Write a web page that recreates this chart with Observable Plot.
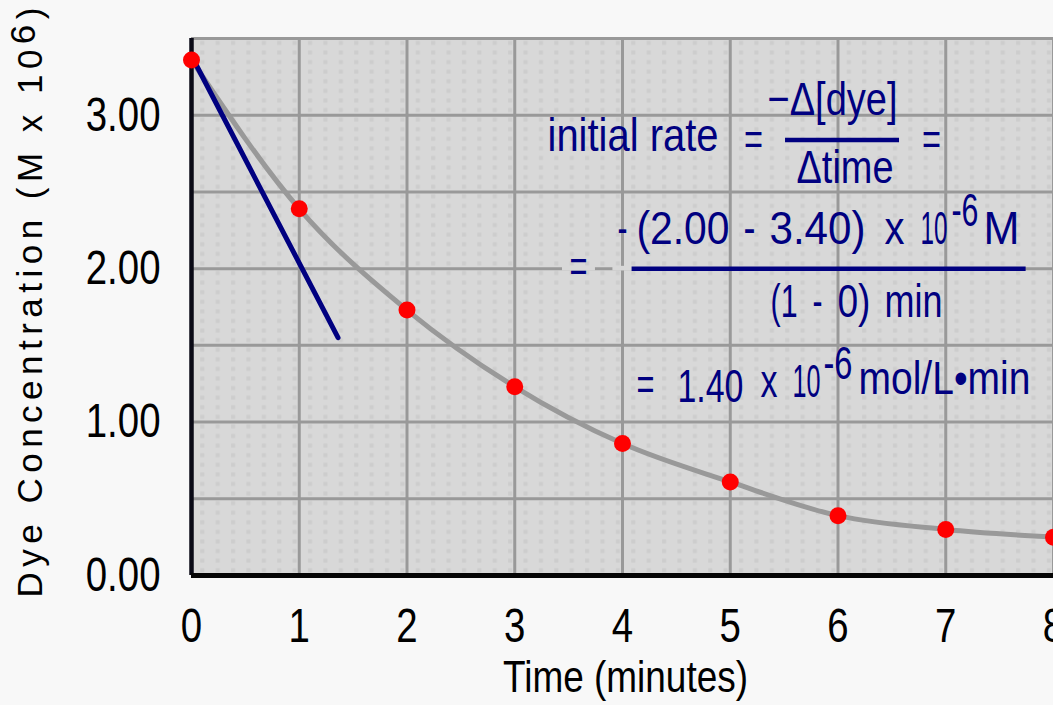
<!DOCTYPE html>
<html><head><meta charset="utf-8">
<script src="https://cdn.jsdelivr.net/npm/d3@7"></script>
<script src="https://cdn.jsdelivr.net/npm/@observablehq/plot@0.6"></script>
<style>
html,body{margin:0;padding:0;background:#f8f8f8;overflow:hidden}
</style></head><body>
<svg width="0" height="0" style="position:absolute">
<defs><pattern id="dots" patternUnits="userSpaceOnUse" x="191" y="575" width="15.393" height="9.5875">
<rect width="16" height="10" fill="#d8d8d8"/><rect x="8.8" y="2.3" width="4" height="4" fill="#cdcdcd"/></pattern></defs></svg>
<div id="chart"></div>
<script>
// measured data
const time = [0, 1, 2, 3, 4, 5, 6, 7, 8];
const conc = [3.36, 2.39, 1.73, 1.23, 0.86, 0.61, 0.39, 0.30, 0.25];
// tangent at t = 0
const tangentTime = [0.02, 1.36];
const tangentConc = [3.36, 1.55];
// ticks and grid
const xTicks = [0, 1, 2, 3, 4, 5, 6, 7, 8];
const xTickLabels = ["0", "1", "2", "3", "4", "5", "6", "7", "8"];
const yTicks = [0, 1, 2, 3];
const yTickLabels = ["0.00", "1.00", "2.00", "3.00"];
const xGrid = [1, 2, 3, 4, 5, 6, 7, 8];
const yGrid = [0.5, 1, 1.5, 2, 2.5, 3, 3.5];
const xTitle = "Time (minutes)";
const yTitle = "Dye Concentration (M x 10";
const yTitleSup = "6";
// equation annotation pieces (position in data units: minutes, concentration)
const eqText = ["initial rate", "=", "\u2212\u0394[dye]", "\u0394time", "=",
  "=", "-", "(2.00", "-", "3.40)", "x", "10", "-6", "M",
  "(1", "-", "0)", "min",
  "=", "1.40", "x", "10", "-6", "mol/L\u2022min"];
const eqTime = [3.304, 5.216, 5.949, 6.065, 6.868,
  3.592, 3.954, 4.130, 5.123, 5.364, 6.432, 6.766, 7.053, 7.350,
  5.374, 5.763, 5.995, 6.432,
  4.130, 4.510, 5.281, 5.578, 5.865, 6.190];
const eqConc = [2.865, 2.842, 3.097, 2.656, 2.842,
  2.008, 2.256, 2.256, 2.256, 2.256, 2.256, 2.256, 2.376, 2.256,
  1.783, 1.783, 1.783, 1.783,
  1.245, 1.229, 1.261, 1.261, 1.379, 1.281];
const eqAnchor = ["start", "middle", "middle", "middle", "middle",
  "middle", "start", "start", "start", "start", "start", "start", "start", "start",
  "start", "start", "start", "start",
  "start", "start", "start", "start", "start", "start"];
// layout: rendered width of each equation piece (px)
const eqWidth = [171, 19, 130, 97, 19,
  18, 10, 93, 12, 96, 20, 27, 27, 36,
  27, 10, 33, 58,
  18, 66, 17, 28, 29, 172];
// fraction bars
const barX1 = [5.513, 4.089];
const barX2 = [6.571, 7.746];
const barY = [2.839, 1.999];
// background boxes hiding the grid line behind the second "="
const coverX1 = [3.443, 3.911];
const coverX2 = [3.749, 4.093];
const coverY1 = [1.985, 1.985];
const coverY2 = [2.015, 2.015];

const points = time.map((t, i) => ({t, v: conc[i]}));
const tangent = tangentTime.map((t, i) => ({t, v: tangentConc[i]}));
const eq = eqText.map((s, i) => ({s, t: eqTime[i], v: eqConc[i], a: eqAnchor[i], w: eqWidth[i]}));
const eqStart = eq.filter(d => d.a === "start");
const eqMid = eq.filter(d => d.a === "middle");
const bars = barX1.map((x1, i) => ({x1, x2: barX2[i], y: barY[i]}));
const covers = coverX1.map((x1, i) => ({x1, x2: coverX2[i], y1: coverY1[i], y2: coverY2[i]}));

const FONT = "'Liberation Sans', Arial, sans-serif";
const NAVY = "#000080";
const BG = "#d8d8d8";

const chart = Plot.plot({
  width: 1053, height: 705,
  marginLeft: 191, marginRight: 0, marginTop: 38, marginBottom: 130,
  style: {background: "#f8f8f8", fontFamily: FONT, fontSize: "48px", color: "#000"},
  x: {domain: [0, 8], ticks: xTicks, tickFormat: d => xTickLabels[xTicks.indexOf(d)], tickSize: 0, tickPadding: 32, label: null},
  y: {domain: [0, 3.5], ticks: yTicks, tickFormat: d => yTickLabels[yTicks.indexOf(d)], tickSize: 0, tickPadding: 31, label: null},
  marks: [
    Plot.frame({fill: BG, stroke: "none"}),
    Plot.ruleX(xGrid, {x: d => d, stroke: "#999", strokeWidth: 3}),
    Plot.ruleY(yGrid, {y: d => d, stroke: "#999", strokeWidth: 3}),
    Plot.rect(covers, {x1: "x1", x2: "x2", y1: "y1", y2: "y2", fill: BG}),
    Plot.ruleX([0], {stroke: "#0a0a16", strokeWidth: 4.5}),
    Plot.ruleY([0], {stroke: "#050505", strokeWidth: 5}),
    Plot.line(points, {x: "t", y: "v", stroke: "#999", strokeWidth: 5, curve: "monotone-x"}),
    Plot.line(tangent, {x: "t", y: "v", stroke: NAVY, strokeWidth: 5}),
    Plot.dot(points, {x: "t", y: "v", r: 8.5, fill: "#ff0000", stroke: "none"}),
    Plot.ruleY(bars, {x1: "x1", x2: "x2", y: "y", stroke: NAVY, strokeWidth: 4.5}),
    Plot.text(eqStart, {x: "t", y: "v", text: "s", textAnchor: "start", fill: NAVY, fontSize: 47, fontFamily: FONT}),
    Plot.text(eqMid, {x: "t", y: "v", text: "s", textAnchor: "middle", fill: NAVY, fontSize: 47, fontFamily: FONT}),
    Plot.text([xTitle], {frameAnchor: "bottom", textAnchor: "middle", lineAnchor: "middle", dx: 3, dy: 102.5, fontSize: 44, fontFamily: FONT, fill: "#000"}),
    Plot.text([yTitle + yTitleSup + ")"], {frameAnchor: "left", textAnchor: "middle", lineAnchor: "middle", rotate: -90, dx: -160.5, dy: -4.5, fontSize: 35, fontFamily: FONT, fill: "#000"})
  ]
});
document.getElementById("chart").appendChild(chart);

// pattern fill for the plot background
chart.querySelectorAll('rect[fill="' + BG + '"]').forEach(r => r.setAttribute("fill", "url(#dots)"));

const squeeze = (t, len) => { t.setAttribute("textLength", len); t.setAttribute("lengthAdjust", "spacingAndGlyphs"); };
// narrow lettering of the original
chart.querySelectorAll('g[aria-label^="x-axis"] text, g[aria-label^="y-axis"] text').forEach(t => squeeze(t, t.getComputedTextLength() * 0.8));
const allText = Array.from(chart.querySelectorAll("text"));
const byContent = s => allText.filter(t => t.textContent === s);
// equation pieces: map rendered elements back to their data rows
const textGroups = Array.from(chart.querySelectorAll('g[aria-label="text"]'));
textGroups.forEach(g => {
  const texts = Array.from(g.querySelectorAll("text"));
  let rows = null;
  if (texts.length === eqStart.length && texts.every((t, i) => t.textContent === eqStart[i].s)) rows = eqStart;
  else if (texts.length === eqMid.length && texts.every((t, i) => t.textContent === eqMid[i].s)) rows = eqMid;
  if (rows) texts.forEach((t, i) => squeeze(t, rows[i].w));
});
byContent(xTitle).forEach(t => squeeze(t, t.getComputedTextLength() * 0.84));
// y title: letter spacing and raised exponent
byContent(yTitle + yTitleSup + ")").forEach(t => {
  const n = (yTitle + yTitleSup + ")").length;
  const L = t.getComputedTextLength();
  const ls = (590 - L) / (n - 1);
  t.setAttribute("letter-spacing", ls.toFixed(2));
  t.textContent = "";
  const ns = "http://www.w3.org/2000/svg";
  const a = document.createElementNS(ns, "tspan"); a.textContent = yTitle; t.appendChild(a);
  const b = document.createElementNS(ns, "tspan"); b.setAttribute("dy", "-7"); b.textContent = yTitleSup; t.appendChild(b);
  const c = document.createElementNS(ns, "tspan"); c.setAttribute("dy", "7"); c.textContent = ")"; t.appendChild(c);
  t.setAttribute("dx", (ls / 2).toFixed(2));
});
</script></body></html>
